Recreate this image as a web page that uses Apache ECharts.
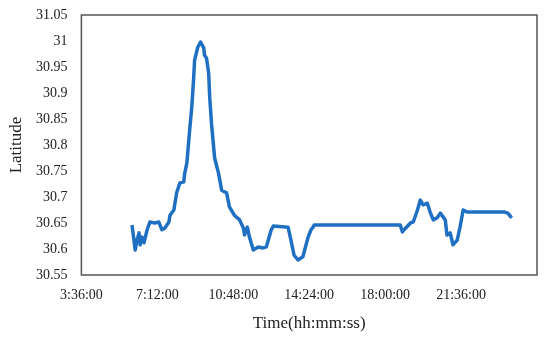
<!DOCTYPE html>
<html>
<head>
<meta charset="utf-8">
<script src="https://cdn.jsdelivr.net/npm/echarts@6/dist/echarts.min.js"></script>
<style>
  html, body { margin: 0; padding: 0; background: #fff; }
  #main { width: 550px; height: 342px; }
</style>
</head>
<body>
<div id="main"></div>
<script>
// time of day (h:mm) and latitude
var times = [
  "6:00", "6:09", "6:14", "6:20", "6:23", "6:28", "6:34", "6:43", "6:51", "7:05",
  "7:16", "7:25", "7:33", "7:45", "7:48", "7:59", "8:07", "8:16", "8:27", "8:30",
  "8:36", "8:44", "8:50", "8:55", "8:58", "9:07", "9:15", "9:24", "9:26", "9:32",
  "9:38", "9:41", "9:46", "9:55", "10:06", "10:15", "10:29", "10:37", "10:51", "11:06",
  "11:17", "11:20", "11:28", "11:34", "11:45", "11:59", "12:13", "12:22", "12:36", "12:42",
  "13:24", "13:32", "13:41", "13:52", "14:06", "14:21", "14:29", "14:35", "14:38", "18:43",
  "18:49", "18:58", "19:12", "19:20", "19:32", "19:40", "19:48", "20:00", "20:08", "20:17",
  "20:28", "20:37", "20:42", "20:51", "20:56", "21:05", "21:13", "21:25", "21:33", "21:42",
  "21:53", "23:40", "23:49", "24:00"
];
var latitude = [
  30.646, 30.598, 30.617, 30.631, 30.608, 30.623, 30.612, 30.637, 30.652, 30.650,
  30.652, 30.637, 30.640, 30.652, 30.665, 30.675, 30.708, 30.727, 30.729, 30.746,
  30.765, 30.829, 30.873, 30.925, 30.963, 30.988, 30.998, 30.987, 30.973, 30.967,
  30.938, 30.892, 30.842, 30.775, 30.746, 30.713, 30.708, 30.681, 30.665, 30.656,
  30.640, 30.627, 30.642, 30.623, 30.598, 30.604, 30.602, 30.604, 30.637, 30.644,
  30.642, 30.617, 30.588, 30.579, 30.585, 30.623, 30.637, 30.642, 30.646, 30.646,
  30.633, 30.640, 30.650, 30.652, 30.675, 30.694, 30.685, 30.688, 30.671, 30.656,
  30.660, 30.669, 30.671, 30.656, 30.627, 30.631, 30.608, 30.617, 30.642, 30.675,
  30.671, 30.671, 30.669, 30.660
];
var xTicks = ["3:36:00", "7:12:00", "10:48:00", "14:24:00", "18:00:00", "21:36:00", "25:12:00"];
var yTicks = [30.55, 30.6, 30.65, 30.7, 30.75, 30.8, 30.85, 30.9, 30.95, 31, 31.05];

function toSec(s) {
  var p = s.split(":");
  return (+p[0]) * 3600 + (+p[1]) * 60 + (p[2] ? +p[2] : 0);
}
function fmt(v) {
  var h = Math.floor(v / 3600), m = Math.floor((v % 3600) / 60), s = Math.round(v % 60);
  return h + ":" + (m < 10 ? "0" : "") + m + ":" + (s < 10 ? "0" : "") + s;
}

var points = times.map(function (t, i) { return [toSec(t), latitude[i]]; });
var font = "'Liberation Serif', 'DejaVu Serif', serif";

var myChart = echarts.init(document.getElementById("main"));
var option = {
  animation: false,
  grid: {
    left: 79, right: 13, top: 15, bottom: 67,
    show: true, borderColor: "#555", borderWidth: 1.5
  },
  xAxis: {
    type: "value",
    min: toSec(xTicks[0]),
    max: toSec(xTicks[xTicks.length - 1]),
    interval: toSec(xTicks[1]) - toSec(xTicks[0]),
    name: "Time(hh:mm:ss)",
    nameLocation: "middle",
    nameGap: 40,
    nameTextStyle: { fontFamily: font, fontSize: 17, color: "#222" },
    axisLine: { show: false },
    axisTick: { show: false },
    splitLine: { show: false },
    axisLabel: {
      showMaxLabel: false,
      margin: 13,
      fontFamily: font, fontSize: 14, color: "#222",
      formatter: fmt
    }
  },
  yAxis: {
    type: "value",
    min: yTicks[0],
    max: yTicks[yTicks.length - 1],
    interval: 0.05,
    name: "Latitude",
    nameLocation: "middle",
    nameGap: 55,
    nameTextStyle: { fontFamily: font, fontSize: 17, color: "#222" },
    axisLine: { show: false },
    axisTick: { show: false },
    splitLine: { show: false },
    axisLabel: {
      margin: 14,
      fontFamily: font, fontSize: 14, color: "#222",
      formatter: function (v) { return String(+v.toFixed(2)); }
    }
  },
  series: [{
    type: "line",
    data: points,
    showSymbol: false,
    lineStyle: { color: "#1f6fc3", width: 3.5, join: "round" }
  }]
};
myChart.setOption(option);
</script>
</body>
</html>
